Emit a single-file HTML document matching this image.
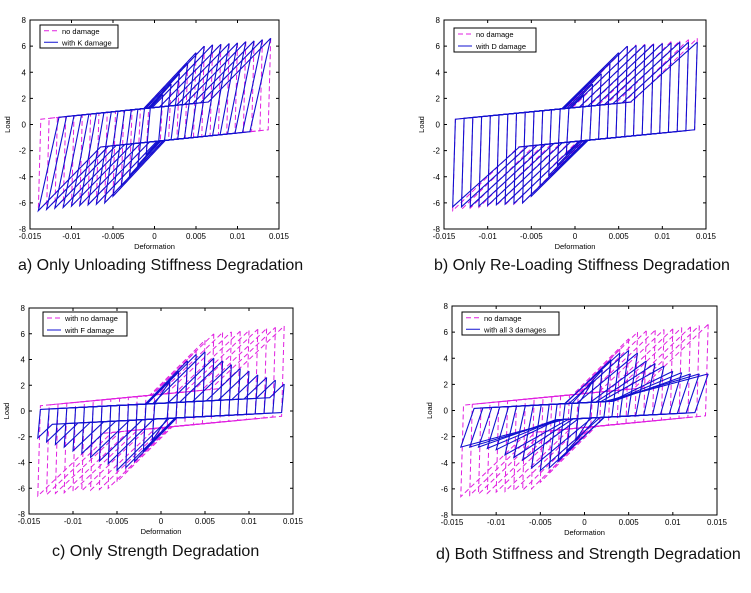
<!DOCTYPE html>
<html><head><meta charset="utf-8">
<style>
html,body{margin:0;padding:0;background:#fff;}
svg{display:block;font-family:"Liberation Sans",Arial,sans-serif;}
</style></head>
<body>
<svg id="fig" width="751" height="593" viewBox="0 0 751 593" xmlns="http://www.w3.org/2000/svg"></svg>
<script>
// ---- data ----
const amps = [0.001,0.002,0.003,0.004,0.005,0.006,0.007,0.008,0.009,0.010,0.011,0.012,0.013,0.014];
const peakNo = [2.3,3.1,3.9,4.7,5.5,6.0,6.1,6.15,6.2,6.25,6.35,6.4,6.5,6.6];
const unloadNo = [0.0003,0.0003,0.0003,0.0003,0.0003,0.0003,0.0003,0.0003,0.0003,0.0003,0.0003,0.0003,0.0003,0.0003];
const reloadNo = [700,700,700,690,680,670,660,650,650,650,650,650,650,650];
const peakA = [2.3,3.1,3.9,4.7,5.5,6.0,6.1,6.15,6.2,6.25,6.35,6.4,6.5,6.6];
const unloadA = [0.0005,0.0008,0.001,0.0012,0.0014,0.0016,0.0018,0.0019,0.002,0.0021,0.0022,0.0023,0.0024,0.0025];
const peakB = [2.3,3.1,3.9,4.7,5.5,6.0,6.05,6.1,6.15,6.2,6.25,6.3,6.3,6.3];
const reloadB = [700,690,680,670,660,650,640,635,630,625,620,615,610,600];
const peakC = [2.3,3.1,3.9,4.4,4.6,4.1,3.9,3.6,3.3,3.1,2.8,2.6,2.4,2.1];
const peakD = [2.3,3.1,3.9,4.4,4.6,4.4,3.8,3.6,3.4,3.0,2.9,2.8,2.8,2.8];
const unloadD = [0.0004,0.0006,0.0008,0.0009,0.001,0.0011,0.0012,0.0013,0.0013,0.0014,0.0014,0.0015,0.0015,0.0015];
const reloadD = [700,680,650,620,600,560,500,440,380,330,280,240,200,180];
const xTicks = [-0.015,-0.01,-0.005,0,0.005,0.01,0.015];
const xTickLabels = ['-0.015','-0.01','-0.005','0','0.005','0.01','0.015'];
const yTicks = [-8,-6,-4,-2,0,2,4,6,8];
const yTickLabels = ['-8','-6','-4','-2','0','2','4','6','8'];

const NS='http://www.w3.org/2000/svg';
const svg=document.getElementById('fig');
function mk(tag,attrs,parent){const e=document.createElementNS(NS,tag);for(const k in attrs)e.setAttribute(k,attrs[k]);(parent||svg).appendChild(e);return e;}

const panels=[
 {id:'a',x0:30,x1:279,y0:20,y1:229,leg:[40,25,118,48],legText:['no damage','with K damage'],cap:'a) Only Unloading Stiffness Degradation',cx:18,cy:270,
  blue:{peak:peakA,unload:unloadA,reload:reloadNo,a:1.3,s:65}},
 {id:'b',x0:444,x1:706,y0:20,y1:229,leg:[454,28,536,52],legText:['no damage','with D damage'],cap:'b) Only Re-Loading Stiffness Degradation',cx:434,cy:270,
  blue:{peak:peakB,unload:unloadNo,reload:reloadB,a:1.3,s:65}},
 {id:'c',x0:29,x1:293,y0:308,y1:514,leg:[43,312,127,336],legText:['with no damage','with F damage'],cap:'c) Only Strength Degradation',cx:52,cy:556,
  blue:{peak:peakC,unload:unloadNo,reload:reloadNo,a:0.6,s:35}},
 {id:'d',x0:452,x1:717,y0:306,y1:515,leg:[462,312,559,335],legText:['no damage','with all 3 damages'],cap:'d) Both Stiffness and Strength Degradation',cx:436,cy:559,
  blue:{peak:peakD,unload:unloadD,reload:reloadD,a:0.6,s:35}}
];

function loopPath(X,Y,d,P,w,k,a,s){
  let xr=(P-a-k*d)/(k-s);
  xr=Math.max(-d,Math.min(xr,d-w));
  const pts=[[d,P],[d-w,-a+s*(d-w)],[xr,-a+s*xr],[-d,-P],[-d+w,a+s*(-d+w)],[-xr,a+s*(-xr)],[d,P]];
  return 'M'+pts.map(p=>X(p[0]).toFixed(1)+','+Y(p[1]).toFixed(1)).join('L');
}

panels.forEach(p=>{
  const g=mk('g',{});
  
  
  const X=v=>p.x0+(v+0.015)/0.03*(p.x1-p.x0);
  const Y=v=>p.y1-(v+8)/16*(p.y1-p.y0);
  const clipId='clip'+p.id;
  const cp=mk('clipPath',{id:clipId},g);
  mk('rect',{x:p.x0,y:p.y0,width:p.x1-p.x0,height:p.y1-p.y0},cp);
  const plot=mk('g',{'clip-path':'url(#'+clipId+')'},g);
  amps.forEach((d,i)=>{
    const e=mk('path',{d:loopPath(X,Y,d,peakNo[i],unloadNo[i],reloadNo[i],1.3,65),fill:'none',stroke:'#e020e0','stroke-width':1,'stroke-dasharray':'5,3'},plot);
    
    
  });
  const b=p.blue;
  amps.forEach((d,i)=>{
    const e=mk('path',{d:loopPath(X,Y,d,b.peak[i],b.unload[i],b.reload[i],b.a,b.s),fill:'none',stroke:'#1010d0','stroke-width':1.1},plot);
    
    
  });
  mk('rect',{x:p.x0,y:p.y0,width:p.x1-p.x0,height:p.y1-p.y0,fill:'none',stroke:'#000','stroke-width':1},g);
  xTicks.forEach((v,i)=>{
    const x=X(v);
    mk('line',{x1:x,x2:x,y1:p.y1,y2:p.y1-3,stroke:'#000'},g);
    mk('line',{x1:x,x2:x,y1:p.y0,y2:p.y0+3,stroke:'#000'},g);
    const t=mk('text',{x:x,y:p.y1+10,'font-size':8,'text-anchor':'middle'},g);
    t.textContent=xTickLabels[i];
    
    
  });
  yTicks.forEach((v,i)=>{
    const y=Y(v);
    mk('line',{x1:p.x0,x2:p.x0+3,y1:y,y2:y,stroke:'#000'},g);
    mk('line',{x1:p.x1,x2:p.x1-3,y1:y,y2:y,stroke:'#000'},g);
    const t=mk('text',{x:p.x0-4,y:y+3,'font-size':8,'text-anchor':'end'},g);
    t.textContent=yTickLabels[i];
    
    
  });
  const xt=mk('text',{x:(p.x0+p.x1)/2,y:p.y1+20,'font-size':7.5,'text-anchor':'middle'},g);
  xt.textContent='Deformation';
  
  
  const yt=mk('text',{x:0,y:0,'font-size':7.5,'text-anchor':'middle',transform:'translate('+(p.x0-20)+','+((p.y0+p.y1)/2)+') rotate(-90)'},g);
  yt.textContent='Load';
  
  
  const L=p.leg;
  const lg=mk('g',{},g);
  
  
  mk('rect',{x:L[0],y:L[1],width:L[2]-L[0],height:L[3]-L[1],fill:'#fff',stroke:'#000'},lg);
  const rowH=(L[3]-L[1])/2;
  [['#e020e0','5,3'],['#1010d0','none']].forEach((c,j)=>{
    const yy=L[1]+rowH*(j+0.5);
    mk('line',{x1:L[0]+4,x2:L[0]+18,y1:yy,y2:yy,stroke:c[0],'stroke-dasharray':c[1]},lg);
    const t=mk('text',{x:L[0]+22,y:yy+3,'font-size':7.5},lg);
    t.textContent=p.legText[j];
    
    
  });
  const cap=mk('text',{x:p.cx,y:p.cy,'font-size':16,fill:'#111'},g);
  cap.textContent=p.cap;
  
  
});
</script>
</body></html>
